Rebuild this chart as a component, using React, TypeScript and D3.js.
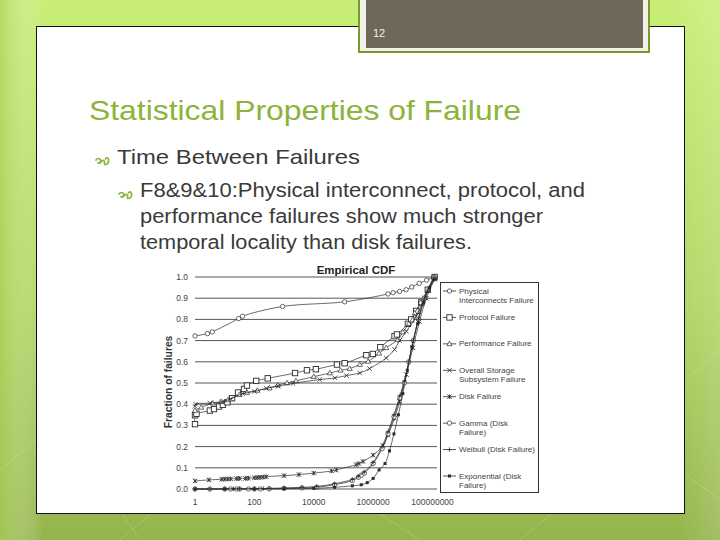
// Slide 12 — "Statistical Properties of Failure": empirical CDF of time between
// failures (log x axis) with the fitted gamma / weibull / exponential curves.

import * as d3 from "d3";

// [log10(time between failures, s), fraction of failures]
const physical: [number, number][] = [
  [0, 0.722], [0.42, 0.733], [0.58, 0.741], [1.47, 0.804], [1.6, 0.815], [2.95, 0.861],
  [5.04, 0.883], [6.5, 0.92], [6.67, 0.926], [6.89, 0.932], [7.11, 0.94], [7.3, 0.953],
  [7.55, 0.97], [7.8, 0.985], [8.05, 1.0],
];
const protocol: [number, number][] = [
  [0, 0.306], [0, 0.348], [0.05, 0.355], [0.5, 0.37], [0.64, 0.377], [0.81, 0.389],
  [0.94, 0.397], [1.09, 0.409], [1.25, 0.428], [1.45, 0.455], [1.65, 0.472], [1.75, 0.488],
  [2.06, 0.51], [2.45, 0.522], [3.37, 0.547], [3.77, 0.56], [4.07, 0.565], [4.78, 0.587],
  [5.04, 0.593], [5.77, 0.631], [5.99, 0.637], [6.24, 0.669], [6.72, 0.721], [6.8, 0.729],
  [7.17, 0.779], [7.28, 0.8], [7.45, 0.84], [7.62, 0.88], [7.84, 0.94], [8.07, 1.0],
];
const performance: [number, number][] = [
  [0, 0.37], [0.21, 0.385], [0.6, 0.405], [0.88, 0.412], [1.11, 0.42], [1.5, 0.445],
  [1.75, 0.455], [2.1, 0.465], [2.51, 0.476], [2.79, 0.49], [3.1, 0.5], [3.4, 0.51],
  [4.0, 0.53], [4.54, 0.547], [4.9, 0.56], [5.21, 0.568], [5.55, 0.587], [5.83, 0.602],
  [6.2, 0.64], [6.44, 0.666], [6.83, 0.705], [7.0, 0.74], [7.2, 0.78], [7.4, 0.83],
  [7.6, 0.88], [7.85, 0.94], [8.06, 1.0],
];
const overall: [number, number][] = [
  [0, 0.39], [0.02, 0.4], [0.5, 0.405], [0.9, 0.41], [1.2, 0.425], [1.6, 0.45],
  [2.0, 0.46], [2.4, 0.475], [2.8, 0.485], [3.3, 0.498], [4.2, 0.516], [4.71, 0.524],
  [5.1, 0.535], [5.55, 0.547], [5.88, 0.568], [6.44, 0.618], [6.72, 0.658], [6.89, 0.7],
  [7.12, 0.744], [7.45, 0.815], [7.73, 0.902], [8.07, 0.99],
];
const disk: [number, number][] = [
  [0, 0.038], [0.47, 0.043], [0.9, 0.046], [1.0, 0.047], [1.1, 0.047], [1.2, 0.048],
  [1.4, 0.049], [1.5, 0.05], [1.7, 0.05], [1.8, 0.051], [2.0, 0.053], [2.1, 0.054],
  [2.2, 0.055], [2.3, 0.056], [2.4, 0.058], [3.0, 0.063], [3.5, 0.068], [4.0, 0.075],
  [4.6, 0.085], [4.76, 0.09], [5.43, 0.115], [5.52, 0.12], [5.66, 0.13], [6.0, 0.16],
  [6.33, 0.205], [6.5, 0.255], [6.72, 0.334], [6.89, 0.413], [7.12, 0.54], [7.34, 0.666],
  [7.56, 0.79], [7.79, 0.9], [8.07, 0.99],
];
const gamma: [number, number][] = [
  [0, 0], [0.5, 0], [1.0, 0], [1.2, 0], [1.4, 0], [1.5, 0], [1.8, 0], [2.0, 0], [2.2, 0],
  [2.5, 0.001], [3.0, 0.003], [3.6, 0.005], [4.1, 0.008], [4.7, 0.02], [5.3, 0.04],
  [5.5, 0.055], [5.6, 0.065], [5.7, 0.075], [6.0, 0.12], [6.3, 0.19], [6.5, 0.26],
  [6.7, 0.34], [6.9, 0.43], [7.05, 0.5], [7.2, 0.6], [7.35, 0.7], [7.52, 0.8],
  [7.72, 0.9], [8.05, 1.0],
];
const weibull: [number, number][] = [
  [0, 0], [0.5, 0], [1.0, 0], [1.3, 0.001], [1.5, 0.001], [2.0, 0.002], [2.3, 0.002],
  [2.5, 0.003], [3.0, 0.005], [3.6, 0.008], [4.1, 0.012], [4.7, 0.025], [5.3, 0.045],
  [5.5, 0.06], [5.7, 0.08], [6.0, 0.125], [6.3, 0.2], [6.5, 0.27], [6.7, 0.35],
  [6.9, 0.44], [7.05, 0.51], [7.2, 0.6], [7.35, 0.7], [7.52, 0.8], [7.72, 0.9], [8.05, 1.0],
];
const exponential: [number, number][] = [
  [0, 0], [1.0, 0], [2.0, 0], [3.0, 0.001], [4.0, 0.003], [4.7, 0.008], [5.3, 0.015],
  [5.6, 0.02], [5.8, 0.03], [6.0, 0.05], [6.2, 0.09], [6.4, 0.12], [6.55, 0.18],
  [6.7, 0.26], [6.85, 0.35], [7.0, 0.45], [7.15, 0.56], [7.3, 0.67], [7.5, 0.78],
  [7.7, 0.88], [7.9, 0.95], [8.07, 0.99],
];

type MarkerKind = "circle" | "square" | "triangle" | "cross" | "star" | "ring" | "plus" | "dot";
const seriesNames = [
  "Physical\nInterconnects Failure", "Protocol Failure", "Performance Failure",
  "Overall Storage\nSubsystem Failure", "Disk Failure", "Gamma (Disk\nFailure)",
  "Weibull (Disk Failure)", "Exponential (Disk\nFailure)",
];
const seriesData = [physical, protocol, performance, overall, disk, gamma, weibull, exponential];
const seriesMarkers: MarkerKind[] = ["circle", "square", "triangle", "cross", "star", "ring", "plus", "dot"];

const xTickExps = [0, 2, 4, 6, 8];
const yTicks = d3.range(0, 11).map((i) => i / 10);

const bodyLines = [
  "F8&9&10:Physical interconnect, protocol, and",
  "performance failures show much stronger",
  "temporal locality than disk failures.",
];
// the slide picture is stretched sideways, so each line is fitted to its width there
const bodyWidths = [445, 403, 332];

const INK = "#2a2a2a";
const GREEN = "#8db33a";
const FONT = "'Liberation Sans', Arial, sans-serif";

function Marker({ kind, x, y }: { kind: MarkerKind; x: number; y: number }) {
  const s = 2.2;
  switch (kind) {
    case "circle":
    case "ring":
      return <circle cx={x} cy={y} r={s} fill="white" stroke={INK} strokeWidth={0.7} />;
    case "square":
      return <rect x={x - 2.7} y={y - 2.7} width={5.4} height={5.4} fill="white" stroke={INK} strokeWidth={0.9} />;
    case "triangle":
      return <path d={`M${x},${y - 2.6}L${x + 2.6},${y + 1.8}L${x - 2.6},${y + 1.8}Z`} fill="white" stroke={INK} strokeWidth={0.7} />;
    case "cross":
      return <path d={`M${x - s},${y - s}L${x + s},${y + s}M${x - s},${y + s}L${x + s},${y - s}`} stroke={INK} strokeWidth={0.8} />;
    case "star":
      return <path d={`M${x - s},${y - s}L${x + s},${y + s}M${x - s},${y + s}L${x + s},${y - s}M${x},${y - s}L${x},${y + s}`} stroke={INK} strokeWidth={0.9} />;
    case "plus":
      return <path d={`M${x - s},${y}L${x + s},${y}M${x},${y - s}L${x},${y + s}`} stroke={INK} strokeWidth={0.8} />;
    case "dot":
      return <rect x={x - 1.5} y={y - 1.5} width={3} height={3} fill={INK} />;
  }
}

function Chart() {
  const x = d3.scaleLinear().domain([0, 8.15]).range([195, 437]);
  const y = d3.scaleLinear().domain([0, 1]).range([489, 277]);
  const line = d3.line<[number, number]>()
    .x((d) => x(d[0])).y((d) => y(d[1]))
    .curve(d3.curveCatmullRom.alpha(0.5));
  const legendY = d3.scalePoint<string>().domain(seriesNames).range([291, 476]);

  return (
    <g fontFamily={FONT}>
      <text x={356} y={274} textAnchor="middle" fontSize={11.5} fontWeight="bold" fill="#222">Empirical CDF</text>
      {yTicks.map((t) => (
        <g key={t}>
          <line x1={x(0)} x2={x(8.15)} y1={y(t)} y2={y(t)} stroke="#555" strokeWidth={1} />
          <text x={188} y={y(t)} dy="0.35em" textAnchor="end" fontSize={8.5} fill="#444">{t.toFixed(1)}</text>
        </g>
      ))}
      {xTickExps.map((e) => (
        <text key={e} x={x(e)} y={505} textAnchor="middle" fontSize={8.5} fill="#444">
          {d3.format("d")(Math.pow(10, e))}
        </text>
      ))}
      <text transform={`translate(172,382) rotate(-90)`} textAnchor="middle" fontSize={10.3}
            fontWeight="bold" fill="#333">Fraction of failures</text>

      {seriesData.map((data, i) => (
        <g key={seriesNames[i]}>
          <path d={line(data) ?? ""} fill="none" stroke={INK} strokeWidth={0.7} />
          {data.map((d, j) => <Marker key={j} kind={seriesMarkers[i]} x={x(d[0])} y={y(d[1])} />)}
        </g>
      ))}

      <rect x={440.5} y={282.5} width={98} height={210} fill="white" stroke="#333" strokeWidth={1} />
      {seriesNames.map((name, i) => {
        const top = legendY(name) ?? 0;
        const lines = name.split("\n");
        return (
          <g key={name}>
            <line x1={443} x2={456} y1={top} y2={top} stroke={INK} strokeWidth={0.8} />
            <Marker kind={seriesMarkers[i]} x={449.5} y={top} />
            {lines.map((l, k) => (
              <text key={k} x={459} y={top + k * 9.5} dy="0.35em" fontSize={7.3} fill="#444"
                    transform={`translate(459,0) scale(1.1,1) translate(-459,0)`}>{l}</text>
            ))}
          </g>
        );
      })}
    </g>
  );
}

// the little olive curl used as the slide's bullet
function Bullet({ x, y, w }: { x: number; y: number; w: number }) {
  const k = w / 14;
  return (
    <g transform={`translate(${x},${y}) scale(${k})`} fill="none" stroke={GREEN} strokeWidth={1.7}
       strokeLinecap="round">
      <path d="M0,-1 C1.5,-3 3.5,-3 4.5,-1 C5.5,1.5 3,3 2,1.5" />
      <path d="M5,1 C6.5,-1 8,-1 8.5,0.5 C9,2 7.5,3.5 9.5,3.5 C12,3.5 13,1 12.5,-1.5 C12,-3.5 10,-3.5 9.5,-2" />
    </g>
  );
}

export default function App() {
  return (
    <div style={{ position: "absolute", left: 0, top: 0 }}>
      <svg width={720} height={540} style={{ display: "block" }}>
        <defs>
          <linearGradient id="bg" x1="0" y1="0" x2="0" y2="1">
            <stop offset="0" stopColor="#c9ee78" />
            <stop offset="0.55" stopColor="#b2d664" />
            <stop offset="1" stopColor="#93b54c" />
          </linearGradient>
          <linearGradient id="side" x1="0" y1="0" x2="1" y2="0">
            <stop offset="0" stopColor="#a6cf52" stopOpacity={0.6} />
            <stop offset="0.06" stopColor="#ffffff" stopOpacity={0} />
            <stop offset="0.94" stopColor="#ffffff" stopOpacity={0} />
            <stop offset="1" stopColor="#ffffff" stopOpacity={0.15} />
          </linearGradient>
        </defs>
        <rect width={720} height={540} fill="url(#bg)" />
        <rect width={720} height={540} fill="url(#side)" />
        <g stroke="#ffffff" strokeOpacity={0.18} strokeWidth={1} fill="none">
          <path d="M0,470 L60,420 L140,540" />
          <path d="M120,540 L250,430 L420,540" />
          <path d="M520,540 L640,440 L720,500" />
          <path d="M685,380 L720,350" />
        </g>

        <rect x={36.5} y={26.5} width={648} height={487} fill="white" stroke="#111" strokeWidth={1} />

        <rect x={358} y={-2} width={292} height={55} fill="#7a9a2e" />
        <rect x={360} y={-2} width={288} height={53} fill="#f1f1ea" />
        <rect x={366} y={-2} width={277} height={50} fill="#6f6859" />
        <text x={373} y={37} fontSize={11} fill="#f0f0f0" fontFamily={FONT}>12</text>

        <g fontFamily={FONT}>
          <text x={89} y={120} fontSize={28} fill={GREEN} textLength={432}
                lengthAdjust="spacingAndGlyphs">Statistical Properties of Failure</text>
          <Bullet x={96} y={161} w={14} />
          <text x={117} y={164} fontSize={21} fill="#3a3a3a" textLength={243}
                lengthAdjust="spacingAndGlyphs">Time Between Failures</text>
          <Bullet x={119} y={195} w={14} />
          {bodyLines.map((l, i) => (
            <text key={i} x={140} y={197 + i * 26} fontSize={19.5} fill="#3a3a3a"
                  textLength={bodyWidths[i]} lengthAdjust="spacingAndGlyphs">{l}</text>
          ))}
        </g>

        <Chart />
      </svg>
    </div>
  );
}
